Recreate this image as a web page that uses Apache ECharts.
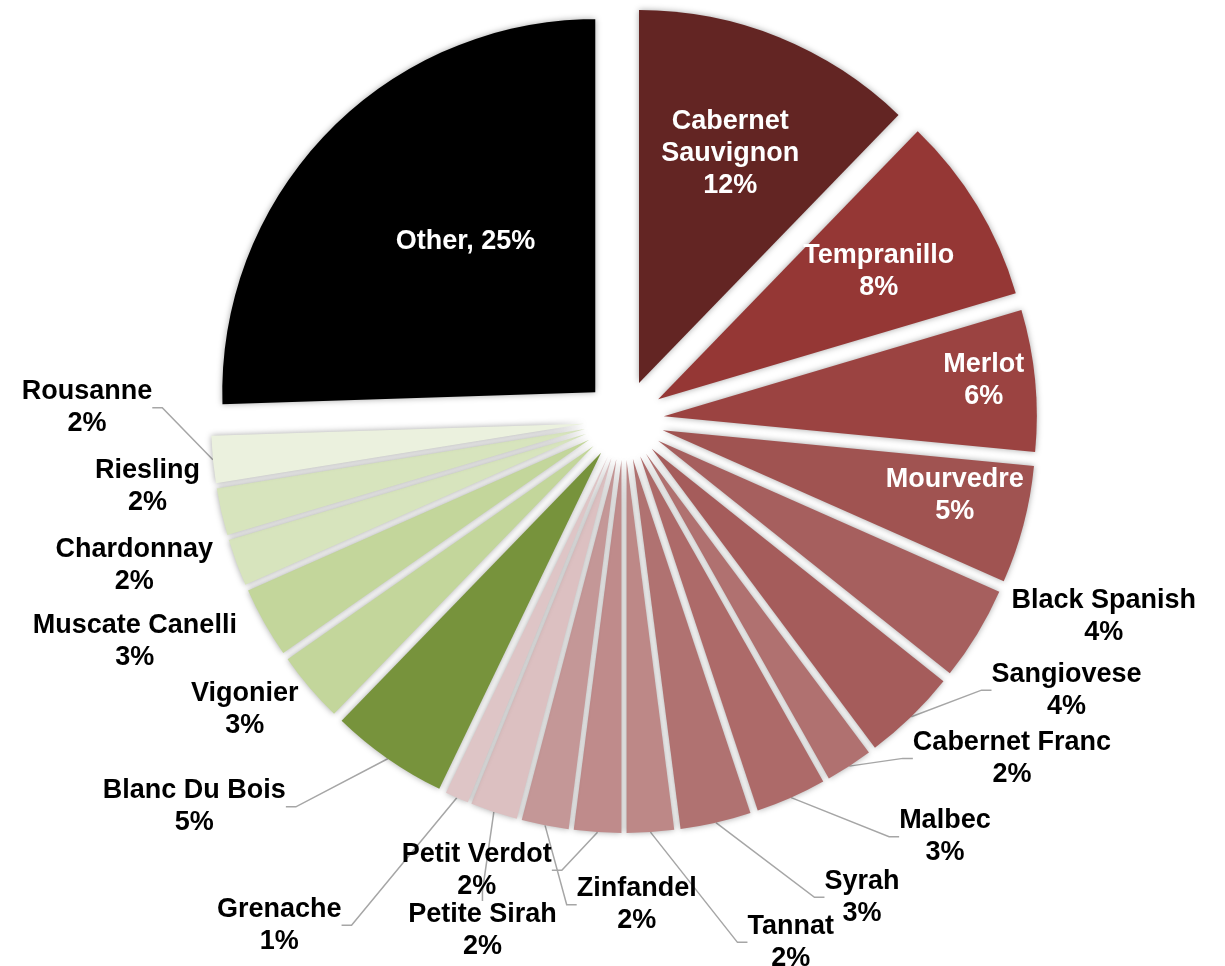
<!DOCTYPE html>
<html>
<head>
<meta charset="utf-8">
<script src="https://cdn.jsdelivr.net/npm/echarts@6/dist/echarts.min.js"></script>
<style>
  html, body { margin: 0; padding: 0; background: #ffffff; }
  #chart { width: 1225px; height: 966px; }
</style>
</head>
<body>
<div id="chart"></div>
<script>
// Grape varieties, clockwise from 12 o'clock
const varieties = [
  'Cabernet Sauvignon', 'Tempranillo', 'Merlot', 'Mourvedre', 'Black Spanish',
  'Sangiovese', 'Cabernet Franc', 'Malbec', 'Syrah', 'Tannat',
  'Petit Verdot', 'Zinfandel', 'Petite Sirah', 'Grenache', 'Blanc Du Bois',
  'Vigonier', 'Muscate Canelli', 'Chardonnay', 'Riesling', 'Rousanne', 'Other'
];
// Share of plantings, percent
const shares = [12, 8, 6, 5, 4, 4, 2, 3, 3, 2, 2, 2, 2, 1, 5, 3, 3, 2, 2, 2, 25];
const sliceColors = [
  '#632523', '#953735', '#9b4341', '#a05351', '#a65f5e',
  '#a55c5b', '#b07170', '#ad6a69', '#b07271', '#bd8887',
  '#bf8b8b', '#c49797', '#dcc0c1', '#dec5c6', '#77933c',
  '#c3d69b', '#c3d69b', '#d7e4bd', '#d7e4bd', '#ebf1de', '#000000'
];
// Slices whose label sits on the slice itself
const insideLabels = ['Cabernet Sauvignon', 'Tempranillo', 'Merlot', 'Mourvedre', 'Other'];
// Labels set close to their slice, without a leader line
const noLeader = ['Black Spanish', 'Riesling', 'Chardonnay', 'Muscate Canelli', 'Vigonier'];

// Pie geometry
const PIE_CENTER = [624, 420];
const PIE_RADIUS = 373;
const EXPLODE = 40;

// Label placement: [clockwise angle from 12 o'clock in degrees, distance from centre / pie radius]
const labelSpots = {
  'Cabernet Sauvignon': [21.7, 0.77], 'Tempranillo': [59.8, 0.79], 'Merlot': [83.8, 0.97],
  'Mourvedre': [102.9, 0.91], 'Other': [318.4, 0.64],
  'Black Spanish': [112.3, 1.39], 'Sangiovese': [121.4, 1.39], 'Cabernet Franc': [131.1, 1.38],
  'Malbec': [142.4, 1.41], 'Syrah': [153.5, 1.43], 'Tannat': [162.3, 1.47],
  'Zinfandel': [178.5, 1.30], 'Petit Verdot': [198.1, 1.27], 'Petite Sirah': [195.5, 1.42],
  'Grenache': [214.3, 1.64], 'Blanc Du Bois': [228.0, 1.55], 'Vigonier': [232.6, 1.28],
  'Muscate Canelli': [245.6, 1.44], 'Chardonnay': [253.4, 1.37], 'Riesling': [262.1, 1.29],
  'Rousanne': [271.3, 1.44]
};

const FONT = '"Liberation Sans", Arial, sans-serif';
const RAD = Math.PI / 180;

function labelText(p) {
  const inside = insideLabels.indexOf(p.name) >= 0;
  const tag = inside ? 'w' : 'd';
  let lines;
  if (p.name === 'Other') {
    lines = [p.name + ', ' + p.value + '%'];
  } else if (p.name === 'Cabernet Sauvignon') {
    lines = ['Cabernet', 'Sauvignon', p.value + '%'];
  } else {
    lines = [p.name, p.value + '%'];
  }
  return lines.map(l => '{' + tag + '|' + l + '}').join('\n');
}

function placeLabel(p) {
  const spot = labelSpots[varieties[p.dataIndex]];
  if (!spot) return {};
  const a = spot[0] * RAD;
  const d = spot[1] * PIE_RADIUS;
  return {
    x: PIE_CENTER[0] + d * Math.sin(a),
    y: PIE_CENTER[1] - d * Math.cos(a),
    align: 'center',
    verticalAlign: 'middle'
  };
}

const textBase = { fontFamily: FONT, fontWeight: 'bold', fontSize: 27, lineHeight: 32, align: 'center' };

const chart = echarts.init(document.getElementById('chart'), null, { renderer: 'canvas' });
chart.setOption({
  animation: false,
  backgroundColor: '#ffffff',
  series: [
    {
      // Exploded slices
      type: 'pie',
      center: PIE_CENTER,
      radius: [0, PIE_RADIUS],
      startAngle: 90,
      clockwise: true,
      selectedMode: 'multiple',
      selectedOffset: EXPLODE,
      emphasis: { disabled: true },
      itemStyle: { shadowBlur: 6, shadowColor: 'rgba(0,0,0,0.35)' },
      label: { show: false },
      labelLine: { show: false },
      data: varieties.map((name, i) => ({
        name: name, value: shares[i], selected: true, itemStyle: { color: sliceColors[i] }
      }))
    },
    {
      // Labels and leader lines, laid over the outer rim of the exploded slices
      type: 'pie',
      silent: true,
      center: PIE_CENTER,
      radius: [0, PIE_RADIUS + EXPLODE],
      startAngle: 90,
      clockwise: true,
      avoidLabelOverlap: false,
      emphasis: { disabled: true },
      itemStyle: { color: 'rgba(0,0,0,0)' },
      label: {
        show: true,
        position: 'outside',
        formatter: labelText,
        rich: {
          d: Object.assign({ color: '#000000' }, textBase),
          w: Object.assign({ color: '#ffffff' }, textBase)
        }
      },
      labelLine: { show: true, length: 12, length2: 10, lineStyle: { color: '#a6a6a6', width: 1.5 } },
      labelLayout: placeLabel,
      data: varieties.map((name, i) => {
        const item = { name: name, value: shares[i] };
        if (insideLabels.indexOf(name) >= 0) {
          item.label = { position: 'inside' };
          item.labelLine = { show: false };
        }
        if (noLeader.indexOf(name) >= 0) {
          item.labelLine = { show: false };
        }
        return item;
      })
    }
  ]
});
</script>
</body>
</html>
